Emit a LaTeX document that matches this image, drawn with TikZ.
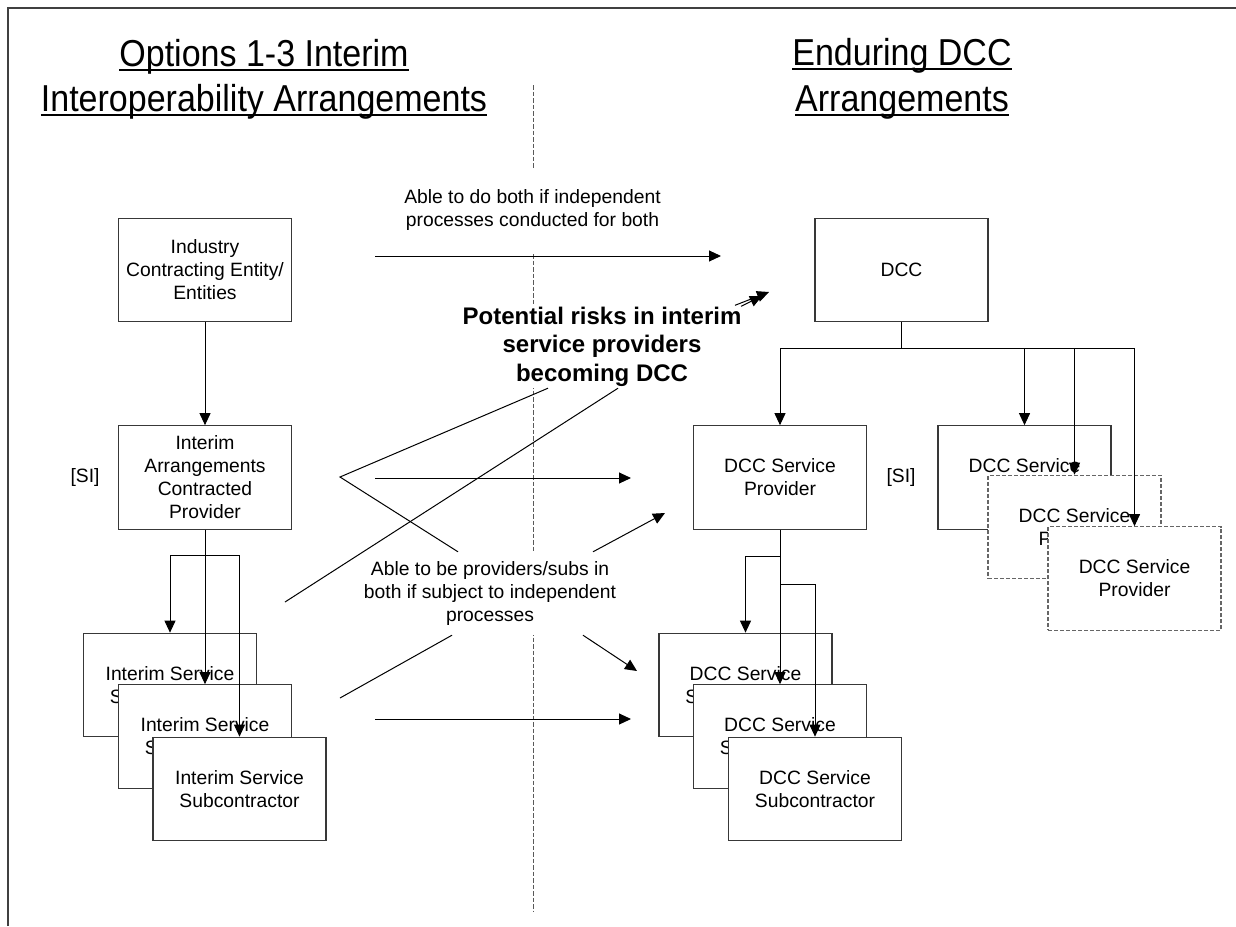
\documentclass[tikz,border=0pt]{standalone}
\usepackage{fontspec}
\usepackage{graphicx}
\setmainfont{Liberation Sans}
\usetikzlibrary{arrows.meta,calc}
\newsavebox\ulbox
\newcommand\ulline[1]{\leavevmode\sbox\ulbox{\scalebox{0.907}[1]{#1}}\rlap{\rule[-5.4pt]{\wd\ulbox}{2.4pt}}\usebox\ulbox}
\begin{document}
\begin{tikzpicture}[x=1pt,y=-1pt,
  box/.style={draw=black!78, line width=1.2pt, fill=white, minimum width=173pt, minimum height=103.5pt, inner sep=0pt, align=center, font=\fontsize{19.3}{23}\selectfont},
  dbox/.style={box, draw=black!60, dash pattern=on 4pt off 2pt},
  arr/.style={line width=1pt, -{Triangle[length=12pt,width=11pt]}},
  ln/.style={line width=1pt},
  lbl/.style={align=center, font=\fontsize{19.3}{23}\selectfont, inner sep=0pt},
  ttl/.style={font=\fontsize{37.5}{45}\selectfont, anchor=base, inner sep=0pt},
]
\useasboundingbox (0,0) rectangle (1236,926);
\draw[black!75, line width=1.5pt] (8,926) -- (8,8) -- (1236,8);
\draw[black!65, line width=1pt, dash pattern=on 4.5pt off 2pt] (533,85) -- (533,912);

% titles
\node[ttl] (tl1) at (264,66) {\ulline{Options 1-3 Interim}};
\node[ttl] (tl2) at (264,111) {\ulline{Interoperability Arrangements}};
\node[ttl] (tr1) at (902,65) {\ulline{Enduring DCC}};
\node[ttl] (tr2) at (902,111) {\ulline{Arrangements}};

% left boxes
\node[box] (ind) at (205,270) {Industry\\Contracting Entity/\\Entities};
\node[box] (iacp) at (205,477.5) {Interim\\Arrangements\\Contracted\\Provider};
\node[box] (is1) at (170,685) {Interim Service\\Subcontractor};
\node[box] (is2) at (205,736.5) {Interim Service\\Subcontractor};
\node[box] (is3) at (239.5,789) {Interim Service\\Subcontractor};

% right boxes
\node[box] (dcc) at (901.5,270) {DCC};
\node[box] (dsp) at (780,477.5) {DCC Service\\Provider};
\node[box] (rsp1) at (1024.5,477.5) {DCC Service\\Provider};
\node[dbox] (rsp2) at (1074.5,527) {DCC Service\\Provider};
\node[dbox] (rsp3) at (1134.5,578.5) {DCC Service\\Provider};
\node[box] (ds1) at (745.5,685) {DCC Service\\Subcontractor};
\node[box] (ds2) at (780,736.5) {DCC Service\\Subcontractor};
\node[box] (ds3) at (815,789) {DCC Service\\Subcontractor};

% labels
\node[lbl, fill=white, minimum width=265pt, minimum height=83pt] (both) at (532.5,210) {Able to do both if independent\\processes conducted for both};
\node[lbl, fill=white, font=\fontsize{24}{28.5}\selectfont\bfseries, minimum width=290pt, minimum height=83pt] (risk) at (602,346.5) {Potential risks in interim\\service providers\\becoming DCC};
\node[lbl, fill=white, minimum width=260pt, minimum height=83pt] (able) at (490,593.5) {Able to be providers/subs in\\both if subject to independent\\processes};
\node[lbl] (si1) at (85,478) {[SI]};
\node[lbl] (si2) at (901,478) {[SI]};

% hierarchy connectors
\draw[arr] (ind.south) -- (iacp.north);
\draw[arr] (iacp.south) -- (is2.north);
\draw[arr] (iacp.south) -- ++(0,25.5) -| (is1.north);
\draw[arr] (iacp.south) -- ++(0,25.5) -| (is3.north);
\draw[arr] (dcc.south) -- ++(0,26) -| (dsp.north);
\draw[arr] (dcc.south) -- ++(0,26) -| (rsp1.north);
\draw[arr] (dcc.south) -- ++(0,26) -| (rsp2.north);
\draw[arr] (dcc.south) -- ++(0,26) -| (rsp3.north);
\draw[arr] (dsp.south) -- (ds2.north);
\draw[arr] (dsp.south) -- ++(0,27) -| (ds1.north);
\draw[arr] (dsp.south) -- ++(0,55) -| (ds3.north);

% horizontal arrows
\coordinate (a1s) at (375,256); \coordinate (a1e) at (721,256);
\coordinate (a2s) at (375,478); \coordinate (a2e) at (631,478);
\coordinate (a3s) at (375,719); \coordinate (a3e) at (631,719);
\draw[arr] (a1s) -- (a1e);
\draw[arr] (a2s) -- (a2e);
\draw[arr] (a3s) -- (a3e);

% risk callout lines
\coordinate (vx) at (340,477);
\coordinate (bend) at (285,602);
\draw[ln] ($(risk.south)+(-54,0)$) -- (vx) -- ($(able.north)+(-32,0)$);
\draw[ln] ($(risk.south)+(16,0)$) -- (bend);
\coordinate (rtip1) at (769,292);
\coordinate (rtip2) at (762,296);
\draw[arr] ($(risk.north)+(133,0.5)$) -- (rtip1);
\draw[arr] ($(risk.north)+(139,1.5)$) -- (rtip2);

% able lines
\coordinate (c1) at (665,513);
\coordinate (c2) at (340,698);
\coordinate (c3) at (637,671);
\draw[arr] ($(able.north)+(103,0)$) -- (c1);
\draw[ln] ($(able.south)+(-38,0)$) -- (c2);
\draw[arr] ($(able.south)+(93,0)$) -- (c3);
\end{tikzpicture}
\end{document}
